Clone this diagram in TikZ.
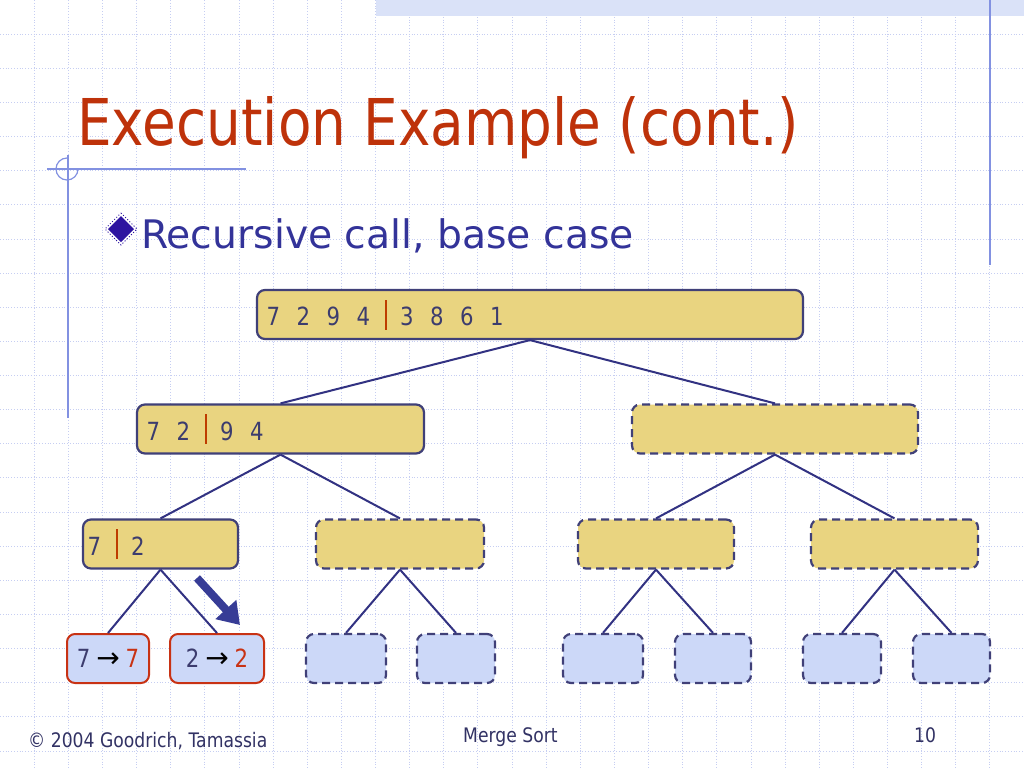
\documentclass[tikz,border=0pt]{standalone}
\usepackage{fontspec}
\setmainfont{DejaVu Sans}
\newfontfamily\titlefont{DejaVu Sans}[FakeStretch=0.85]
\newfontfamily\footfont{DejaVu Sans}[FakeStretch=0.86]
\usetikzlibrary{arrows.meta}

\definecolor{titlered}{RGB}{190,50,10}
\definecolor{pointblue}{RGB}{51,51,153}
\definecolor{bulletcol}{RGB}{45,20,160}
\definecolor{digitcol}{RGB}{60,60,110}
\definecolor{boxfill}{RGB}{233,212,128}
\definecolor{boxline}{RGB}{64,64,120}
\definecolor{leaffill}{RGB}{204,216,248}
\definecolor{donered}{RGB}{200,50,20}
\definecolor{barred}{RGB}{190,60,0}
\definecolor{edgecol}{RGB}{50,50,130}
\definecolor{hintcol}{RGB}{55,60,150}
\definecolor{gridcol}{RGB}{198,206,242}
\definecolor{decocol}{RGB}{130,145,225}
\definecolor{bandfill}{RGB}{218,226,248}
\definecolor{footcol}{RGB}{50,50,100}

\newcommand{\dsep}{\hspace{16.5pt}}
\newcommand{\splitbar}{\hspace{15pt}{\color{barred}\rule[-4pt]{2pt}{30pt}}\hspace{13pt}}
\newcommand{\digitfont}{\titlefont\fontsize{25}{25}\selectfont}
\newcommand{\maps}{\hspace{6pt}{\normalfont\fontsize{28}{28}\selectfont\color{black}→}\hspace{6pt}}

\tikzset{
  gridline/.style={line width=0.8pt, color=gridcol, dotted},
  decoline/.style={line width=1.2pt, color=decocol},
  sortbox/.style={draw=boxline, fill=boxfill, line width=2.2pt, rounded corners=8pt,
    minimum height=49pt, inner xsep=9.5pt, align=left, font=\digitfont, text=digitcol},
  openbox/.style={draw=boxline, fill=boxfill, line width=2.2pt, rounded corners=8pt,
    minimum height=49pt, minimum width=#1, dash pattern=on 8pt off 5pt},
  leafbox/.style={draw=boxline, fill=leaffill, line width=2.2pt, rounded corners=8pt,
    minimum height=49pt, minimum width=#1, dash pattern=on 8pt off 5pt},
  donebox/.style={draw=donered, fill=leaffill, line width=2pt, rounded corners=8pt,
    minimum height=49pt, minimum width=#1, inner xsep=0pt, font=\digitfont, text=digitcol},
  branch/.style={draw=edgecol, line width=2pt},
  foottext/.style={font=\footfont\fontsize{20}{20}\selectfont, text=footcol, inner sep=0pt}
}

\begin{document}
\begin{tikzpicture}[x=1pt, y=-1pt]
    \useasboundingbox[fill=white] (0,0) rectangle (1024,768);

    % Background grid:
    \foreach \k in {1,...,29}
        \draw[gridline] ({\k*34.1333},0) -- ({\k*34.1333},768);
    \foreach \k in {1,...,22}
        \draw[gridline] (0,{\k*34.1333}) -- (1024,{\k*34.1333});
    \fill[bandfill] (376,0) rectangle (1024,16);

    % Slide decoration:
    \draw[decoline] (47,169) -- (246,169);
    \draw[decoline] (68,155) -- (68,418);
    \draw[decoline] (78,169) arc[start angle=0, end angle=270, radius=11];
    \draw[decoline] (990,0) -- (990,265);

    % Title and bullet:
    \node[anchor=base west, inner sep=0pt, text=titlered,
          font=\titlefont\fontsize{64.5}{64.5}\selectfont] (title) at (77,145) {Execution Example (cont.)};
    \fill[bulletcol] (121,216) -- (134,229) -- (121,242) -- (108,229) -- cycle;
    \draw[bulletcol, line width=1pt, dotted] (121,213) -- (137,229) -- (121,245) -- (105,229) -- cycle;
    \node[anchor=base west, inner sep=0pt, text=pointblue,
          font=\fontsize{39.3}{39.3}\selectfont] (point) at (141,248) {Recursive call, base case};

    % Level 0 and 1:
    \node[sortbox, text width=527pt] (root) at (530,314.5) {7\dsep2\dsep9\dsep4\splitbar3\dsep8\dsep6\dsep1};
    \node[sortbox, text width=268pt] (left) at (280.5,429) {7\dsep2\splitbar9\dsep4};
    \node[openbox=286pt] (right) at (775,429) {};

    % Level 2:
    \node[sortbox, inner xsep=4.5pt, text width=146pt] (ll) at (160.5,544) {7\splitbar2};
    \node[openbox=168pt] (lr) at (400,544) {};
    \node[openbox=156pt] (rl) at (656,544) {};
    \node[openbox=167pt] (rr) at (894.5,544) {};

    % Leaves:
    \node[donebox=82pt] (lla) at (108,658.5) {7\maps\textcolor{donered}{7}};
    \node[donebox=94pt] (llb) at (217,658.5) {2\maps\textcolor{donered}{2}};
    \node[leafbox=80pt] (lra) at (346,658.5) {};
    \node[leafbox=78pt] (lrb) at (456,658.5) {};
    \node[leafbox=80pt] (rla) at (603,658.5) {};
    \node[leafbox=76pt] (rlb) at (713,658.5) {};
    \node[leafbox=78pt] (rra) at (842,658.5) {};
    \node[leafbox=77pt] (rrb) at (951.5,658.5) {};

    % Tree edges:
    \draw[branch] (root.south) -- (left.north);
    \draw[branch] (root.south) -- (right.north);
    \draw[branch] (left.south) -- (ll.north);
    \draw[branch] (left.south) -- (lr.north);
    \draw[branch] (right.south) -- (rl.north);
    \draw[branch] (right.south) -- (rr.north);
    \foreach \p/\a/\b in {ll/lla/llb, lr/lra/lrb, rl/rla/rlb, rr/rra/rrb} {
        \draw[branch] (\p.south) -- (\a.north);
        \draw[branch] (\p.south) -- (\b.north);
    }

    % Current step arrow:
    \coordinate (hintfrom) at (197,578);
    \coordinate (hintto) at (240,625);
    \draw[hintcol, line width=8pt, -{Triangle[length=21pt, width=27pt]}] (hintfrom) -- (hintto);

    % Footer:
    \node[foottext, anchor=base west] (copy) at (28,747) {© 2004 Goodrich, Tamassia};
    \node[foottext, anchor=base west] (topic) at (463,742) {Merge Sort};
    \node[foottext, anchor=base west] (page) at (914,742) {10};
\end{tikzpicture}
\end{document}
